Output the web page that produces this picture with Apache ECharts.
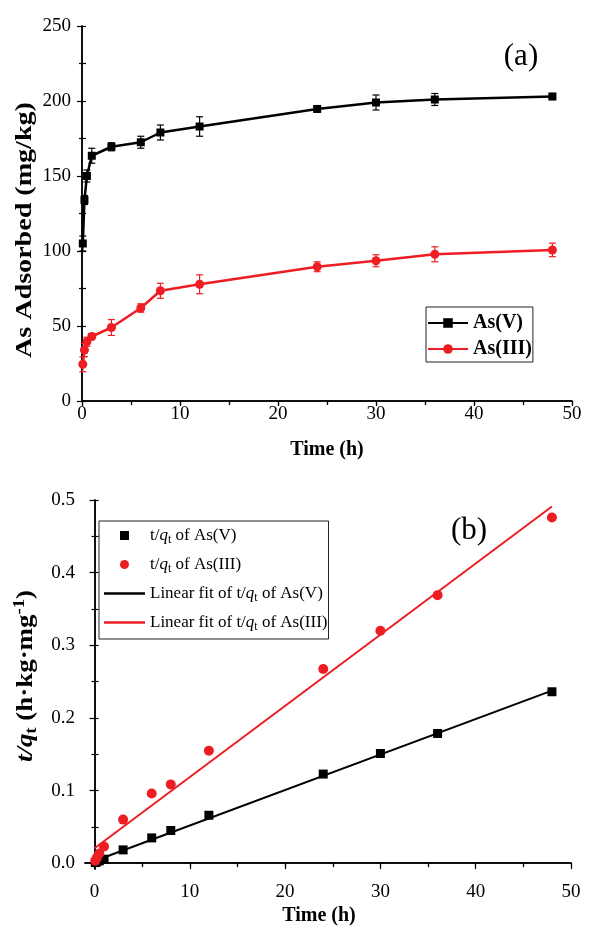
<!DOCTYPE html>
<html>
<head>
<meta charset="utf-8">
<script src="https://cdn.jsdelivr.net/npm/echarts@6/dist/echarts.min.js"></script>
<style>html,body{margin:0;padding:0;background:#fff;}#c{width:599px;height:927px;}</style>
</head>
<body>
<div id="c"></div>
<script>
// ---------- data ----------
const timeH = [0.083, 0.25, 0.5, 1, 3, 6, 8, 12, 24, 30, 36, 48];
const asV = [105, 134, 150, 163.5, 169.5, 172.5, 179, 183, 194.7, 199, 201, 203];
const asVErr = [5, 3, 4, 5, 2.7, 4, 5, 6.5, 2, 5, 4, 2];
const asIII = [24.5, 34, 39.5, 43, 49, 62, 73.5, 77.8, 89.5, 93.5, 97.8, 100.7];
const asIIIErr = [5, 4.4, 3, 2, 5.3, 2.8, 5, 6.3, 3.3, 4, 5, 4.5];
const tqV = [0.0008, 0.0019, 0.0033, 0.0055, 0.0183, 0.0348, 0.045, 0.066, 0.1227, 0.151, 0.1786, 0.236];
const tqIII = [0.0034, 0.0073, 0.0133, 0.023, 0.060, 0.096, 0.1085, 0.1548, 0.2674, 0.32, 0.369, 0.476];
const fitT = [0, 48];
const fitV = [0.003, 0.2375];
const fitIII = [0.0206, 0.491];
const xTicksB = [0, 10, 20, 30, 40, 50];
const xMinorB = [5, 15, 25, 35, 45];
const xMirrorB = [0, 5, 10, 15, 20, 25, 30, 35, 40, 45, 50];
const yTicksB = [0, 0.1, 0.2, 0.3, 0.4, 0.5];
const yMinorB = [0.05, 0.15, 0.25, 0.35, 0.45];
const yMirrorB = [0, 0.05, 0.1, 0.15, 0.2, 0.25, 0.3, 0.35, 0.4, 0.45, 0.5];

const FONT = 'Liberation Serif';
const BLACK = '#000000';
const RED = '#EE1D23';

const zip = (a, b) => a.map((v, i) => [v, b[i]]);

function errSeries(ys, errs, color) {
  return {
    type: 'custom', xAxisIndex: 0, yAxisIndex: 0, silent: true, z: 1,
    data: timeH.map((t, i) => [t, ys[i] - errs[i], ys[i] + errs[i]]),
    renderItem: function (params, api) {
      const x = api.value(0);
      const lo = api.coord([x, api.value(1)]);
      const hi = api.coord([x, api.value(2)]);
      const w = 3.5;
      const st = { stroke: color, lineWidth: 1.2 };
      return {
        type: 'group', children: [
          { type: 'line', shape: { x1: lo[0], y1: lo[1], x2: hi[0], y2: hi[1] }, style: st },
          { type: 'line', shape: { x1: lo[0] - w, y1: lo[1], x2: lo[0] + w, y2: lo[1] }, style: st },
          { type: 'line', shape: { x1: hi[0] - w, y1: hi[1], x2: hi[0] + w, y2: hi[1] }, style: st }
        ]
      };
    }
  };
}

const axLine = { show: true, lineStyle: { color: BLACK, width: 1.5 } };
const tickStyle = { color: BLACK, width: 1.2 };
const lblStyle = { color: BLACK, fontFamily: FONT, fontSize: 19 };

const legendNamesB = {
  tqV: '{n|t/}{i|q}{s|t}{n| of As(V)}',
  tqIII: '{n|t/}{i|q}{s|t}{n| of As(III)}',
  fitV: '{n|Linear fit of t/}{i|q}{s|t}{n| of As(V)}',
  fitIII: '{n|Linear fit of t/}{i|q}{s|t}{n| of As(III)}'
};
const SQUARE_ICON = 'path://M0,0H10V10H0Z';
const LINE_ICON = 'path://M0,0H40V2.2H0Z';

const option = {
  animation: false,
  backgroundColor: '#fff',
  grid: [
    { left: 82, top: 26, width: 490, height: 375, show: false },
    { left: 85, top: 500, width: 486, height: 370, show: false }
  ],
  xAxis: [
    { gridIndex: 0, type: 'value', min: 0, max: 50, interval: 10, position: 'bottom',
      axisLine: axLine, splitLine: { show: false },
      axisTick: { show: true, inside: false, length: 5, lineStyle: tickStyle },
      minorTick: { show: true, splitNumber: 2, length: 3, lineStyle: tickStyle },
      axisLabel: Object.assign({ margin: 4 }, lblStyle),
      name: 'Time (h)', nameLocation: 'middle', nameGap: 39,
      nameTextStyle: { fontFamily: FONT, fontSize: 20, fontWeight: 'bold', color: BLACK } },
    { gridIndex: 0, type: 'value', min: 0, max: 50, interval: 5, position: 'top',
      axisLine: axLine, splitLine: { show: false },
      axisTick: { show: true, inside: true, length: 4, lineStyle: tickStyle },
      axisLabel: { show: false } },
    { gridIndex: 1, type: 'value', min: -1, max: 50, position: 'bottom',
      axisLine: axLine, splitLine: { show: false },
      axisTick: { show: true, inside: false, length: 6, lineStyle: tickStyle, customValues: xTicksB },
      axisLabel: Object.assign({ margin: 14, customValues: xTicksB }, lblStyle),
      name: 'Time (h)', nameLocation: 'middle', nameGap: 37,
      nameTextStyle: { fontFamily: FONT, fontSize: 20, fontWeight: 'bold', color: BLACK, padding: [0, 18, 0, 0] } },
    { gridIndex: 1, type: 'value', min: -1, max: 50, position: 'bottom',
      axisLine: { show: false }, splitLine: { show: false },
      axisTick: { show: true, inside: false, length: 3, lineStyle: tickStyle, customValues: xMinorB },
      axisLabel: { show: false } },
    { gridIndex: 1, type: 'value', min: -1, max: 50, position: 'top',
      axisLine: axLine, splitLine: { show: false },
      axisTick: { show: true, inside: true, length: 4, lineStyle: tickStyle, customValues: xMirrorB },
      axisLabel: { show: false } }
  ],
  yAxis: [
    { gridIndex: 0, type: 'value', min: 0, max: 250, interval: 50, position: 'left',
      axisLine: axLine, splitLine: { show: false },
      axisTick: { show: true, inside: false, length: 5, lineStyle: tickStyle },
      minorTick: { show: true, splitNumber: 2, length: 3, lineStyle: tickStyle },
      axisLabel: Object.assign({ margin: 11 }, lblStyle) },
    { gridIndex: 0, type: 'value', min: 0, max: 250, interval: 25, position: 'right',
      axisLine: axLine, splitLine: { show: false },
      axisTick: { show: true, inside: false, length: 4, lineStyle: tickStyle },
      axisLabel: { show: false } },
    { gridIndex: 1, type: 'value', min: -0.008, max: 0.5, position: 'left',
      axisLine: axLine, splitLine: { show: false },
      axisTick: { show: true, inside: false, length: 5, lineStyle: tickStyle, customValues: yTicksB },
      axisLabel: Object.assign({ margin: 10, customValues: yTicksB, formatter: v => v.toFixed(1) }, lblStyle) },
    { gridIndex: 1, type: 'value', min: -0.008, max: 0.5, position: 'left',
      axisLine: { show: false }, splitLine: { show: false },
      axisTick: { show: true, inside: false, length: 3, lineStyle: tickStyle, customValues: yMinorB },
      axisLabel: { show: false } },
    { gridIndex: 1, type: 'value', min: -0.008, max: 0.5, position: 'right',
      axisLine: axLine, splitLine: { show: false },
      axisTick: { show: true, inside: false, length: 4, lineStyle: tickStyle, customValues: yMirrorB },
      axisLabel: { show: false } }
  ],
  legend: [
    { data: ['As(V)', 'As(III)'], orient: 'vertical', left: 426, top: 307,
      padding: [6, 1, 3, 1], itemWidth: 40, itemHeight: 12, itemGap: 6,
      borderColor: '#222', borderWidth: 1, selectedMode: false,
      textStyle: { fontFamily: FONT, fontSize: 20, fontWeight: 'bold', color: BLACK } },
    { data: [
        { name: 'tqV', icon: SQUARE_ICON },
        { name: 'tqIII', icon: 'circle' },
        { name: 'fitV', icon: LINE_ICON },
        { name: 'fitIII', icon: LINE_ICON }
      ],
      orient: 'vertical', left: 99, top: 521, symbolKeepAspect: true,
      padding: [6, 1, 6, 5], itemWidth: 41, itemHeight: 9, itemGap: 10,
      borderColor: '#222', borderWidth: 1, selectedMode: false,
      formatter: n => legendNamesB[n],
      textStyle: { fontFamily: FONT, fontSize: 17, color: BLACK,
        rich: {
          n: { fontFamily: FONT, fontSize: 17, color: BLACK },
          i: { fontFamily: FONT, fontSize: 17, fontStyle: 'italic', color: BLACK },
          s: { fontFamily: FONT, fontSize: 12, color: BLACK, padding: [9, 0, 0, 0] }
        } } }
  ],
  series: [
    errSeries(asV, asVErr, BLACK),
    errSeries(asIII, asIIIErr, RED),
    { name: 'As(V)', type: 'line', xAxisIndex: 0, yAxisIndex: 0, data: zip(timeH, asV),
      symbol: 'rect', symbolSize: 8, color: BLACK, lineStyle: { width: 2.5, color: BLACK },
      itemStyle: { color: BLACK }, z: 3 },
    { name: 'As(III)', type: 'line', xAxisIndex: 0, yAxisIndex: 0, data: zip(timeH, asIII),
      symbol: 'circle', symbolSize: 9, color: RED, lineStyle: { width: 2.5, color: RED },
      itemStyle: { color: RED }, z: 3 },
    { name: 'tqV', type: 'scatter', xAxisIndex: 2, yAxisIndex: 2, data: zip(timeH, tqV),
      symbol: 'rect', symbolSize: 9, itemStyle: { color: BLACK, opacity: 1 }, z: 4 },
    { name: 'tqIII', type: 'scatter', xAxisIndex: 2, yAxisIndex: 2, data: zip(timeH, tqIII),
      symbol: 'circle', symbolSize: 10, itemStyle: { color: RED, opacity: 1 }, z: 4 },
    { name: 'fitV', type: 'line', xAxisIndex: 2, yAxisIndex: 2, data: zip(fitT, fitV),
      symbol: 'none', lineStyle: { width: 2, color: BLACK }, itemStyle: { color: BLACK }, z: 3 },
    { name: 'fitIII', type: 'line', xAxisIndex: 2, yAxisIndex: 2, data: zip(fitT, fitIII),
      symbol: 'none', lineStyle: { width: 2, color: RED }, itemStyle: { color: RED }, z: 3 }
  ],
  graphic: [
    { type: 'text', x: 521, y: 57, style: { text: '(a)', fontFamily: FONT, fontSize: 31, fill: BLACK, align: 'center', verticalAlign: 'middle' } },
    { type: 'text', x: 469, y: 531, style: { text: '(b)', fontFamily: FONT, fontSize: 31, fill: BLACK, align: 'center', verticalAlign: 'middle' } },
    { type: 'text', x: 25, y: 230, rotation: Math.PI / 2, scaleX: 1.17,
      style: { text: 'As Adsorbed (mg/kg)', fontFamily: FONT, fontSize: 24, fontWeight: 'bold', fill: BLACK, align: 'center', verticalAlign: 'middle' } },
    { type: 'text', x: 26, y: 676, rotation: Math.PI / 2, scaleX: 1.17,
      style: {
        text: '{bi|t/q}{bs|t}{b| (h·kg·mg}{bp|-1}{b|)}',
        fontFamily: FONT, fontSize: 23, fontWeight: 'bold', fill: BLACK, align: 'center', verticalAlign: 'middle',
        rich: {
          bi: { fontFamily: FONT, fontSize: 23, fontWeight: 'bold', fontStyle: 'italic', fill: BLACK },
          b: { fontFamily: FONT, fontSize: 23, fontWeight: 'bold', fill: BLACK },
          bs: { fontFamily: FONT, fontSize: 16, fontWeight: 'bold', fill: BLACK, padding: [12, 0, 0, 0] },
          bp: { fontFamily: FONT, fontSize: 16, fontWeight: 'bold', fill: BLACK, padding: [0, 0, 12, 0] }
        } } }
  ]
};

const chart = echarts.init(document.getElementById('c'), null, { renderer: 'canvas' });
chart.setOption(option);
</script>
</body>
</html>
